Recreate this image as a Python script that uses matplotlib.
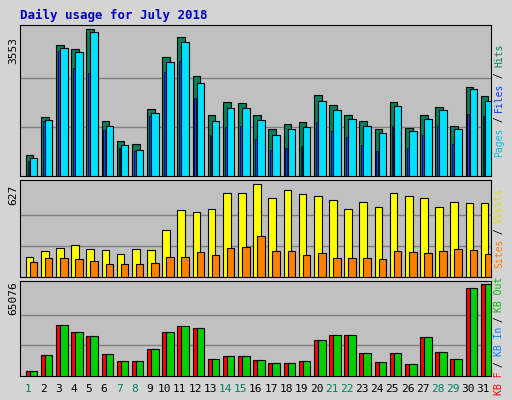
import numpy as np
import matplotlib
matplotlib.use("Agg")
import matplotlib.pyplot as plt

days = np.arange(1, 32)
hits = [501, 1421, 3173, 3069, 3553, 1324, 840, 767, 1615, 2875, 3359, 2414, 1470, 1785, 1760, 1470, 1131, 1252, 1300, 1954, 1712, 1470, 1324, 1131, 1785, 1155, 1470, 1663, 1203, 2148, 1930]
files = [428, 1349, 3093, 2996, 3480, 1203, 743, 622, 1518, 2754, 3238, 2245, 1324, 1639, 1639, 1349, 985, 1131, 1179, 1809, 1591, 1373, 1203, 1034, 1688, 1082, 1373, 1591, 1131, 2100, 1809]
pages = [355, 1324, 3020, 2608, 2487, 1106, 670, 598, 1445, 2511, 2778, 1881, 985, 1179, 1203, 888, 622, 670, 719, 1300, 1082, 937, 743, 598, 1203, 670, 985, 1203, 767, 1494, 1445]
visits = [136, 177, 198, 218, 191, 184, 157, 191, 184, 314, 450, 436, 456, 566, 566, 627, 532, 586, 559, 545, 518, 456, 504, 470, 566, 545, 532, 470, 504, 497, 497]
sites = [102, 129, 129, 123, 109, 89, 89, 89, 95, 136, 136, 170, 150, 198, 204, 273, 177, 177, 150, 164, 129, 129, 129, 123, 177, 170, 164, 177, 191, 184, 157]
kb_out = [3576, 15019, 35761, 30754, 27893, 15734, 10727, 10727, 19310, 30754, 35046, 33615, 12157, 14303, 14303, 11442, 9296, 9296, 10727, 25747, 28608, 28608, 16450, 10012, 16450, 8581, 27177, 17165, 12157, 62215, 65076]
weekend = {1, 7, 8, 14, 15, 21, 22, 28, 29}

W, H = 512, 400
fig = plt.figure(figsize=(W / 100, H / 100), dpi=100)
fig.patch.set_facecolor("#d4d4d4")
mono = "DejaVu Sans Mono"

def panel(top, bottom):
    ax = fig.add_axes([20 / W, 1 - bottom / H, 471 / W, (bottom - top) / H])
    ax.set_facecolor("#c0c0c0")
    ax.set_xlim(0.95, 32.0)
    ax.set_xticks([])
    ax.set_yticks([])
    for s in ax.spines.values():
        s.set_color("black")
    return ax

def bars(ax, vals, off, width, color):
    ax.bar(days + off, vals, width=width, align="edge", color=color,
           edgecolor="black", linewidth=0.8, zorder=3)

# hits / files / pages
ax1 = panel(25, 176)
ax1.set_ylim(0, 3553 * 1.03)
for g in [1184, 2368]:
    ax1.axhline(g, color="#808080", lw=1, zorder=1)
bars(ax1, hits, 0.33, 0.5, "#00805c")
bars(ax1, files, 0.59, 0.5, "#00e0ff")
ax1.bar(days + 0.45, pages, width=0.12, align="edge", color="#0040ff",
        edgecolor="black", linewidth=0.5, zorder=3)

# visits / sites
ax2 = panel(180, 277)
ax2.set_ylim(0, 627 * 1.04)
for g in [209, 418]:
    ax2.axhline(g, color="#808080", lw=1, zorder=1)
bars(ax2, visits, 0.33, 0.5, "#ffff00")
bars(ax2, sites, 0.59, 0.5, "#ff8000")

# kbytes
ax3 = panel(281, 376)
ax3.set_ylim(0, 65076 * 1.03)
for g in [21692, 43384]:
    ax3.axhline(g, color="#808080", lw=1, zorder=1)
bars(ax3, kb_out, 0.33, 0.5, "#ff0000")
bars(ax3, kb_out, 0.59, 0.5, "#00d000")

for d in days:
    fig.text((20 + (d - 0.95) * 471 / 31.05 + 7.5) / W, 1 - 389 / H, str(d),
             ha="center", va="center", fontsize=8, family=mono,
             color="#008060" if d in weekend else "black")

fig.text(20 / W, 1 - 15 / H, "Daily usage for July 2018", color="#0000c0",
         fontsize=9, family=mono, fontweight="bold", va="center")
for y, lab in [(50, "3553"), (195, "627"), (298, "65076")]:
    fig.text(13 / W, 1 - y / H, lab, rotation=90, ha="center", va="center",
             fontsize=8, family=mono)

STEP = 5.6

def side(ycenter, parts):
    # stacked rotated text, read from bottom to top
    total = sum(len(t) for t, _ in parts)
    y = ycenter + total * STEP / 2
    for t, c in parts:
        n = len(t)
        fig.text(499 / W, 1 - (y - n * STEP / 2) / H, t, rotation=90,
                 ha="center", va="center", fontsize=7, family=mono, color=c)
        y -= n * STEP

side(100, [("Pages", "#00c0e0"), (" / ", "black"), ("Files", "#0040ff"),
           (" / ", "black"), ("Hits", "#00805c")])
side(228, [("Sites", "#ff8000"), (" / ", "black"), ("Visits", "#e0e000")])
side(336, [("KB F", "#ff0000"), (" / ", "black"), ("KB In", "#0080ff"),
           (" / ", "black"), ("KB Out", "#00c000")])

fig.savefig("out.png", dpi=100, facecolor=fig.get_facecolor())
